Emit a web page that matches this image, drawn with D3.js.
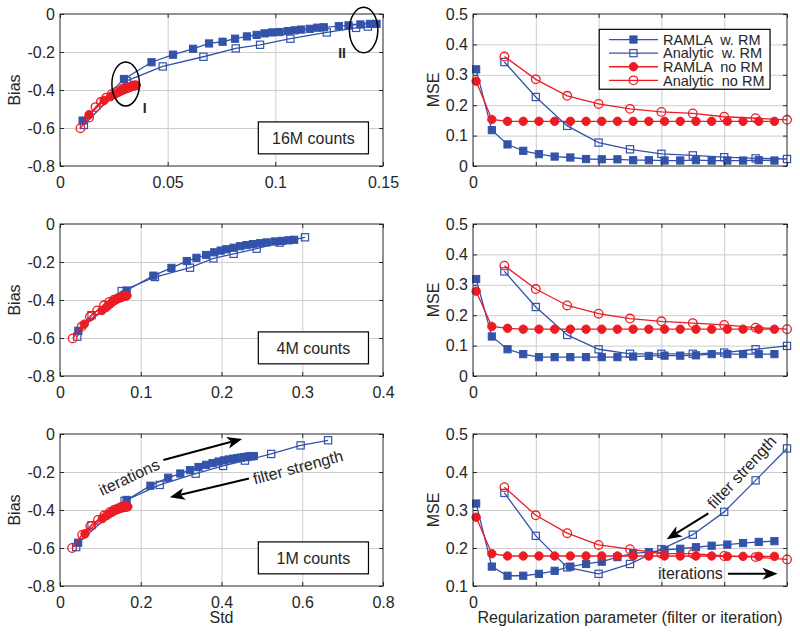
<!DOCTYPE html>
<html><head><meta charset="utf-8">
<script src="https://cdn.jsdelivr.net/npm/d3@7/dist/d3.min.js"></script>
<style>
body{margin:0;background:#fff}
svg text{font-family:"Liberation Sans",Arial,Helvetica,sans-serif;fill:#262626}
</style></head>
<body><svg id="c" width="800" height="633"></svg>
<script>
// ---------- DATA ----------
// Bias vs Std, [std, bias]
const ramlaRM16 = [[0.0105,-0.561],[0.0297,-0.342],[0.0425,-0.254],[0.0525,-0.214],[0.0618,-0.183],[0.0692,-0.155],[0.0755,-0.146],[0.0813,-0.130],[0.0868,-0.118],[0.0913,-0.110],[0.0950,-0.102],[0.0985,-0.097],[0.1020,-0.095],[0.1058,-0.090],[0.1090,-0.086],[0.1120,-0.082],[0.1160,-0.078],[0.1195,-0.072],[0.1225,-0.070],[0.1295,-0.064],[0.1340,-0.060],[0.1395,-0.055],[0.1440,-0.052],[0.1470,-0.052]];
const analyticRM16 = [[0.0111,-0.584],[0.0310,-0.352],[0.0477,-0.276],[0.0666,-0.225],[0.0816,-0.181],[0.0929,-0.162],[0.1070,-0.130],[0.1239,-0.097],[0.1375,-0.073],[0.1430,-0.066]];
const ramlaNoRM16 = [[0.0135,-0.530],[0.0205,-0.455],[0.0235,-0.435],[0.0255,-0.422],[0.0270,-0.413],[0.0282,-0.406],[0.0293,-0.400],[0.0302,-0.396],[0.0310,-0.392],[0.0317,-0.389],[0.0323,-0.386],[0.0328,-0.384],[0.0333,-0.382],[0.0337,-0.380],[0.0341,-0.379],[0.0344,-0.378],[0.0347,-0.377],[0.0350,-0.376],[0.0352,-0.375],[0.0354,-0.375]];
const analyticNoRM16 = [[0.0095,-0.601],[0.0135,-0.545],[0.0165,-0.490],[0.0190,-0.462],[0.0215,-0.440],[0.0240,-0.422],[0.0265,-0.407],[0.0290,-0.395],[0.0315,-0.385],[0.0340,-0.376]];

const ramlaRM4 = [[0.0227,-0.562],[0.0825,-0.350],[0.1156,-0.272],[0.138,-0.231],[0.157,-0.195],[0.169,-0.178],[0.181,-0.163],[0.191,-0.149],[0.199,-0.140],[0.206,-0.133],[0.215,-0.125],[0.223,-0.117],[0.231,-0.111],[0.239,-0.106],[0.248,-0.101],[0.256,-0.097],[0.266,-0.092],[0.275,-0.089],[0.283,-0.086],[0.290,-0.083]];
const analyticRM4 = [[0.0214,-0.593],[0.039,-0.480],[0.0764,-0.353],[0.1176,-0.279],[0.161,-0.230],[0.190,-0.181],[0.215,-0.157],[0.2435,-0.130],[0.272,-0.098],[0.3034,-0.070]];
const ramlaNoRM4 = [[0.030,-0.527],[0.052,-0.455],[0.057,-0.440],[0.060,-0.428],[0.063,-0.418],[0.065,-0.410],[0.067,-0.404],[0.069,-0.399],[0.071,-0.395],[0.072,-0.392],[0.074,-0.389],[0.075,-0.387],[0.076,-0.385],[0.077,-0.383],[0.078,-0.382],[0.079,-0.381],[0.080,-0.380],[0.081,-0.379],[0.082,-0.378],[0.083,-0.377]];
const analyticNoRM4 = [[0.0157,-0.602],[0.0268,-0.540],[0.037,-0.488],[0.046,-0.455],[0.0545,-0.428],[0.061,-0.410],[0.067,-0.398],[0.072,-0.390],[0.0765,-0.383],[0.080,-0.378]];

const ramlaRM1 = [[0.045,-0.572],[0.165,-0.347],[0.224,-0.272],[0.268,-0.230],[0.298,-0.208],[0.322,-0.190],[0.343,-0.174],[0.362,-0.162],[0.378,-0.153],[0.393,-0.145],[0.406,-0.139],[0.418,-0.134],[0.429,-0.130],[0.439,-0.127],[0.448,-0.124],[0.456,-0.122],[0.463,-0.120],[0.469,-0.118],[0.475,-0.117],[0.480,-0.116]];
const analyticRM1 = [[0.040,-0.595],[0.078,-0.480],[0.160,-0.352],[0.247,-0.268],[0.336,-0.209],[0.404,-0.168],[0.458,-0.140],[0.523,-0.105],[0.596,-0.060],[0.664,-0.033]];
const ramlaNoRM1 = [[0.062,-0.525],[0.105,-0.445],[0.115,-0.430],[0.122,-0.420],[0.128,-0.412],[0.133,-0.406],[0.137,-0.401],[0.141,-0.398],[0.144,-0.395],[0.147,-0.393],[0.150,-0.391],[0.152,-0.389],[0.154,-0.388],[0.156,-0.387],[0.158,-0.386],[0.160,-0.385],[0.162,-0.384],[0.164,-0.384],[0.166,-0.383],[0.168,-0.383]];
const analyticNoRM1 = [[0.030,-0.600],[0.055,-0.530],[0.075,-0.485],[0.094,-0.452],[0.110,-0.428],[0.124,-0.410],[0.135,-0.398],[0.145,-0.390],[0.153,-0.383],[0.160,-0.378]];

// MSE vs regularization parameter
const iterX = [0.2,1.2,2.2,3.2,4.2,5.2,6.2,7.2,8.2,9.2,10.2,11.2,12.2,13.2,14.2,15.2,16.2,17.2,18.2,19.2];
const filtX = [2,4,6,8,10,12,14,16,18,20];

const mseRamlaRM16 = [0.318,0.118,0.071,0.050,0.039,0.031,0.028,0.023,0.022,0.022,0.019,0.019,0.018,0.018,0.019,0.018,0.018,0.018,0.019,0.018];
const mseAnalyticRM16 = [0.342,0.227,0.132,0.077,0.055,0.040,0.035,0.029,0.025,0.023];
const mseRamlaNoRM16 = [0.279,0.153,0.147,0.147,0.147,0.147,0.147,0.147,0.147,0.147,0.147,0.147,0.147,0.147,0.147,0.147,0.147,0.147,0.147,0.147];
const mseAnalyticNoRM16 = [0.360,0.285,0.231,0.204,0.188,0.178,0.173,0.162,0.157,0.152];

const mseRamlaRM4 = [0.319,0.130,0.088,0.072,0.062,0.062,0.062,0.062,0.062,0.062,0.064,0.066,0.067,0.067,0.068,0.072,0.072,0.072,0.072,0.072];
const mseAnalyticRM4 = [0.344,0.227,0.135,0.088,0.073,0.073,0.073,0.077,0.088,0.099];
const mseRamlaNoRM4 = [0.279,0.163,0.157,0.154,0.154,0.154,0.154,0.154,0.154,0.154,0.154,0.154,0.154,0.154,0.154,0.154,0.154,0.154,0.154,0.154];
const mseAnalyticNoRM4 = [0.363,0.286,0.232,0.205,0.189,0.180,0.174,0.168,0.159,0.154];

const mseRamlaRM1 = [0.317,0.151,0.127,0.127,0.132,0.140,0.151,0.158,0.164,0.176,0.186,0.189,0.195,0.198,0.202,0.206,0.209,0.213,0.216,0.218];
const mseAnalyticRM1 = [0.345,0.232,0.149,0.132,0.158,0.197,0.235,0.295,0.378,0.462];
const mseRamlaNoRM1 = [0.281,0.185,0.179,0.179,0.179,0.179,0.179,0.179,0.179,0.179,0.179,0.179,0.179,0.179,0.179,0.179,0.178,0.178,0.178,0.178];
const mseAnalyticNoRM1 = [0.360,0.286,0.239,0.208,0.197,0.185,0.185,0.179,0.176,0.170];

// ticks & labels
const stdTicks16 = [0,0.05,0.1,0.15];
const stdTicks4 = [0,0.1,0.2,0.3,0.4];
const stdTicks1 = [0,0.2,0.4,0.6,0.8];
const biasTicks = [-0.8,-0.6,-0.4,-0.2,0];
const regTicks = [0,4,8,12,16,20];
const regTickLabels = ["0","","","","",""];
const mseTicksA = [0,0.1,0.2,0.3,0.4,0.5];
const mseTicksB = [0.1,0.2,0.3,0.4,0.5];
const countLabels = ["16M counts","4M counts","1M counts"];
const legendLabels = ["RAMLA  w. RM","Analytic  w. RM","RAMLA  no RM","Analytic  no RM"];

// ---------- DRAW ----------
const BLUE = "#3352aa", RED = "#ed1c24", AX = "#262626", GRID = "#cdcdcd";
const FONT = 16;
const svg = d3.select("#c");
const styles = [
  {color:BLUE, shape:"sq", filled:true},
  {color:BLUE, shape:"sq", filled:false},
  {color:RED, shape:"ci", filled:true},
  {color:RED, shape:"ci", filled:false}
];
const LEFT = [60,383], RIGHT = [473,787];
const ROWS = [[14,166],[224,376],[434,586]];

function axesFrame(g, x, y, xt, yt){
  const [x0,x1] = x.range(), [y1,y0] = y.range();
  const h = y1-y0, w = x1-x0;
  g.append("g").attr("transform",`translate(0,${y1})`)
    .call(d3.axisBottom(x).tickValues(xt.filter(v=>x(v)>x0+1 && x(v)<x1-1)).tickSize(-h).tickFormat(""))
    .call(s=>{s.select(".domain").remove(); s.selectAll("line").attr("stroke",GRID);});
  g.append("g").attr("transform",`translate(${x0},0)`)
    .call(d3.axisLeft(y).tickValues(yt.filter(v=>y(v)>y0+1 && y(v)<y1-1)).tickSize(-w).tickFormat(""))
    .call(s=>{s.select(".domain").remove(); s.selectAll("line").attr("stroke",GRID);});
}
function axesBox(g, x, y, xt, yt, xfmt, yfmt){
  const [x0,x1] = x.range(), [y1,y0] = y.range();
  const style = s=>{s.select(".domain").remove(); s.selectAll("line").attr("stroke",AX);
    s.selectAll("text").attr("fill",AX).style("font-size",FONT+"px").style("font-family",'"Liberation Sans",Arial,sans-serif');};
  g.append("g").attr("transform",`translate(0,${y1})`)
    .call(d3.axisBottom(x).tickValues(xt).tickSizeInner(-4).tickSizeOuter(0).tickPadding(11).tickFormat(xfmt)).call(style);
  g.append("g").attr("transform",`translate(0,${y0})`)
    .call(d3.axisTop(x).tickValues(xt).tickSizeInner(-4).tickSizeOuter(0).tickFormat("")).call(style);
  g.append("g").attr("transform",`translate(${x0},0)`)
    .call(d3.axisLeft(y).tickValues(yt).tickSizeInner(-4).tickSizeOuter(0).tickPadding(5).tickFormat(yfmt)).call(style);
  g.append("g").attr("transform",`translate(${x1},0)`)
    .call(d3.axisRight(y).tickValues(yt).tickSizeInner(-4).tickSizeOuter(0).tickFormat("")).call(style);
  g.append("rect").attr("x",x0).attr("y",y0).attr("width",x1-x0).attr("height",y1-y0)
    .attr("fill","none").attr("stroke",AX).attr("stroke-width",1);
}
function marker(sel, st){
  if(st.shape==="sq"){
    sel.append("rect").attr("x",-3.6).attr("y",-3.6).attr("width",7.2).attr("height",7.2)
      .attr("fill",st.filled?st.color:"none").attr("stroke",st.color).attr("stroke-width",st.filled?1:1.2);
  } else {
    sel.append("circle").attr("r",st.filled?4.2:4.3)
      .attr("fill",st.filled?st.color:"none").attr("stroke",st.color).attr("stroke-width",st.filled?1:1.3);
  }
}
function series(g, x, y, pts, st){
  g.append("path").datum(pts)
    .attr("d",d3.line().x(d=>x(d[0])).y(d=>y(d[1])))
    .attr("fill","none").attr("stroke",st.color).attr("stroke-width",1.3);
  g.selectAll(null).data(pts).enter().append("g")
    .attr("transform",d=>`translate(${x(d[0])},${y(d[1])})`)
    .each(function(){ marker(d3.select(this), st); });
}
function arrow(g, p0, p1){
  const dx=p1[0]-p0[0], dy=p1[1]-p0[1], L=Math.hypot(dx,dy), ux=dx/L, uy=dy/L, nx=-uy, ny=ux;
  const hl=15, hw=6, notch=4;
  const base=[p1[0]-ux*hl, p1[1]-uy*hl];
  g.append("line").attr("x1",p0[0]).attr("y1",p0[1]).attr("x2",base[0]+ux*notch).attr("y2",base[1]+uy*notch)
    .attr("stroke","#000").attr("stroke-width",2);
  const pts=[p1,[base[0]+nx*hw,base[1]+ny*hw],[base[0]+ux*notch,base[1]+uy*notch],[base[0]-nx*hw,base[1]-ny*hw]];
  g.append("path").attr("d","M"+pts.map(p=>p.join(",")).join("L")+"Z").attr("fill","#000");
}

const numFmt = d => String(d);
const leftData = [
  {dom:[0,0.15], ticks:stdTicks16, s:[ramlaRM16,analyticRM16,ramlaNoRM16,analyticNoRM16]},
  {dom:[0,0.4], ticks:stdTicks4, s:[ramlaRM4,analyticRM4,ramlaNoRM4,analyticNoRM4]},
  {dom:[0,0.8], ticks:stdTicks1, s:[ramlaRM1,analyticRM1,ramlaNoRM1,analyticNoRM1]}
];
const rightData = [
  {ydom:[0,0.5], yt:mseTicksA, s:[[iterX,mseRamlaRM16],[filtX,mseAnalyticRM16],[iterX,mseRamlaNoRM16],[filtX,mseAnalyticNoRM16]]},
  {ydom:[0,0.5], yt:mseTicksA, s:[[iterX,mseRamlaRM4],[filtX,mseAnalyticRM4],[iterX,mseRamlaNoRM4],[filtX,mseAnalyticNoRM4]]},
  {ydom:[0.1,0.5], yt:mseTicksB, s:[[iterX,mseRamlaRM1],[filtX,mseAnalyticRM1],[iterX,mseRamlaNoRM1],[filtX,mseAnalyticNoRM1]]}
];
const scalesL = [], scalesR = [];

leftData.forEach((p,i)=>{
  const g = svg.append("g");
  const x = d3.scaleLinear().domain(p.dom).range(LEFT);
  const y = d3.scaleLinear().domain([-0.8,0]).range([ROWS[i][1],ROWS[i][0]]);
  scalesL.push({x,y,g});
  axesFrame(g,x,y,p.ticks,biasTicks);
  p.s.forEach((pts,k)=>series(g,x,y,pts,styles[k]));
  axesBox(g,x,y,p.ticks,biasTicks,numFmt,numFmt);
  const fx = d3.scaleLinear().domain([0,1]).range(LEFT);
  const fy = d3.scaleLinear().domain([0,1]).range([ROWS[i][1],ROWS[i][0]]);
  g.append("rect").attr("x",fx(0.614)).attr("y",fy(0.29)).attr("width",fx(0.955)-fx(0.614)).attr("height",fy(0.08)-fy(0.29))
    .attr("fill","#fff").attr("stroke","#000").attr("stroke-width",1.2);
  g.append("text").attr("x",(fx(0.614)+fx(0.955))/2).attr("y",(fy(0.29)+fy(0.08))/2).attr("dy","0.36em")
    .attr("text-anchor","middle").style("font-size",FONT+"px").attr("fill","#000").text(countLabels[i]);
  g.append("text").attr("transform",`translate(20,${(ROWS[i][0]+ROWS[i][1])/2}) rotate(-90)`)
    .attr("text-anchor","middle").style("font-size",FONT+"px").text("Bias");
});

rightData.forEach((p,i)=>{
  const g = svg.append("g");
  const x = d3.scaleLinear().domain([0,20]).range(RIGHT);
  const y = d3.scaleLinear().domain(p.ydom).range([ROWS[i][1],ROWS[i][0]]);
  scalesR.push({x,y,g});
  axesFrame(g,x,y,regTicks,p.yt);
  p.s.forEach((xy,k)=>series(g,x,y,d3.zip(xy[0],xy[1]),styles[k]));
  axesBox(g,x,y,regTicks,p.yt,(d,j)=>regTickLabels[j],numFmt);
  g.append("text").attr("transform",`translate(439,${(ROWS[i][0]+ROWS[i][1])/2}) rotate(-90)`)
    .attr("text-anchor","middle").style("font-size",FONT+"px").text("MSE");
});

// x labels
svg.append("text").attr("x",(LEFT[0]+LEFT[1])/2).attr("y",623).attr("text-anchor","middle").style("font-size",FONT+"px").text("Std");
svg.append("text").attr("x",(RIGHT[0]+RIGHT[1])/2).attr("y",623).attr("text-anchor","middle").style("font-size",FONT+"px").text("Regularization parameter (filter or iteration)");

// legend (top-right panel)
{
  const {g} = scalesR[0];
  const fx = d3.scaleLinear().domain([0,1]).range(RIGHT);
  const fy = d3.scaleLinear().domain([0,1]).range([ROWS[0][1],ROWS[0][0]]);
  const lg = g.append("g");
  lg.append("rect").attr("x",fx(0.402)).attr("y",fy(0.899)).attr("width",fx(0.946)-fx(0.402)).attr("height",fy(0.505)-fy(0.899))
    .attr("fill","#fff").attr("stroke","#000").attr("stroke-width",1.2);
  legendLabels.forEach((lab,k)=>{
    const yy = fy(0.832) + k*13.6;
    lg.append("line").attr("x1",fx(0.433)).attr("x2",fx(0.589)).attr("y1",yy).attr("y2",yy).attr("stroke",styles[k].color).attr("stroke-width",1.3);
    const m = lg.append("g").attr("transform",`translate(${(fx(0.433)+fx(0.589))/2},${yy})`);
    marker(m, styles[k]);
    lg.append("text").attr("x",fx(0.605)).attr("y",yy).attr("dy","0.36em").style("font-size","14.5px")
      .attr("xml:space","preserve").style("white-space","pre").attr("fill","#000").text(lab);
  });
}

// ellipses and labels in top-left
{
  const {x,y,g} = scalesL[0];
  const ell = [[0.0305,-0.368,0.0064,0.116],[0.141,-0.084,0.0066,0.12]];
  ell.forEach(e=>{
    g.append("ellipse").attr("cx",x(e[0])).attr("cy",y(e[1])).attr("rx",x(e[2])-x(0)).attr("ry",y(-e[3])-y(0))
      .attr("fill","none").attr("stroke","#000").attr("stroke-width",1.5);
  });
  g.append("text").attr("x",x(0.0393)).attr("y",y(-0.519)).attr("text-anchor","middle").style("font-size","14px").style("font-weight","bold").attr("fill","#000").text("I");
  g.append("text").attr("x",x(0.131)).attr("y",y(-0.233)).attr("text-anchor","middle").style("font-size","14px").style("font-weight","bold").attr("fill","#000").text("II");
}

// bottom-left annotations
{
  const {x,y,g} = scalesL[2];
  arrow(g,[x(0.256),y(-0.137)],[x(0.451),y(-0.026)]);
  arrow(g,[x(0.468),y(-0.234)],[x(0.272),y(-0.333)]);
  g.append("text").attr("transform",`translate(${x(0.171)},${y(-0.226)}) rotate(-25)`).attr("text-anchor","middle").attr("dy","0.36em")
    .style("font-size",FONT+"px").attr("fill","#000").text("iterations");
  g.append("text").attr("transform",`translate(${x(0.589)},${y(-0.174)}) rotate(-15)`).attr("text-anchor","middle").attr("dy","0.36em")
    .style("font-size",FONT+"px").attr("fill","#000").text("filter strength");
}
// bottom-right annotations
{
  const {x,y,g} = scalesR[2];
  arrow(g,[x(14.99),y(0.291)],[x(12.34),y(0.223)]);
  arrow(g,[x(16.24),y(0.132)],[x(19.4),y(0.132)]);
  g.append("text").attr("transform",`translate(${x(17.11)},${y(0.40)}) rotate(-47)`).attr("text-anchor","middle").attr("dy","0.36em")
    .style("font-size",FONT+"px").attr("fill","#000").text("filter strength");
  g.append("text").attr("x",x(11.78)).attr("y",y(0.118)).style("font-size",FONT+"px").attr("fill","#000").text("iterations");
}
</script></body></html>
